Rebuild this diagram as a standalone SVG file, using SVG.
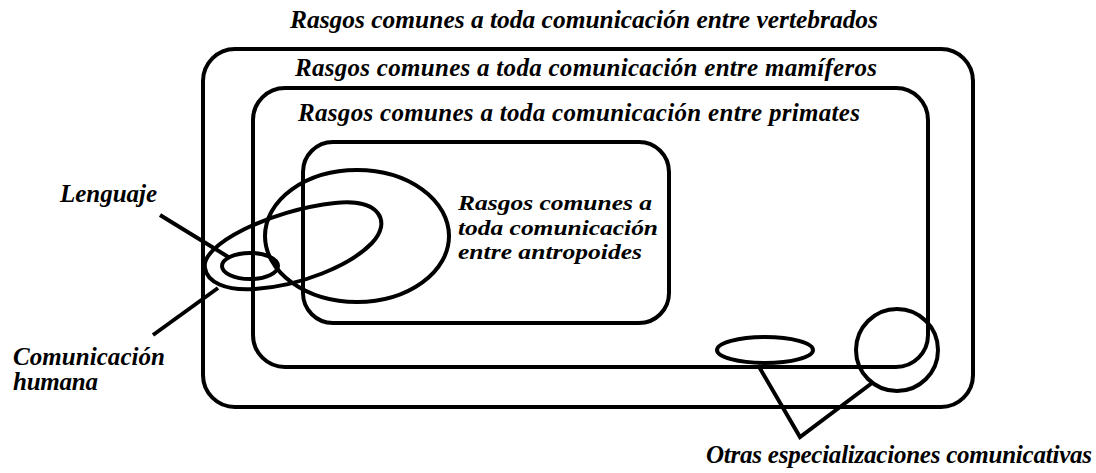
<svg xmlns="http://www.w3.org/2000/svg" width="1096" height="473" viewBox="0 0 1096 473">
<style>
.box{fill:none;stroke:#000;stroke-width:4}
.sh{fill:none;stroke:#000;stroke-width:4}
.ln{fill:none;stroke:#000;stroke-width:4;stroke-linecap:butt;stroke-linejoin:miter}
text{font-family:"Liberation Serif","Times New Roman",serif;font-weight:bold;font-style:italic;font-size:25px;fill:#000}
.sm{font-size:22px}
</style>
<rect width="1096" height="473" fill="#fff"/>
<g id="vertebrados">
<rect class="box" x="203" y="49" width="770" height="358" rx="32"/>
<text x="290" y="28" textLength="588" lengthAdjust="spacingAndGlyphs">Rasgos comunes a toda comunicación entre vertebrados</text>
</g>
<g id="mamiferos">
<rect class="box" x="253" y="88" width="675" height="279" rx="32"/>
<text x="295" y="76" textLength="582" lengthAdjust="spacing">Rasgos comunes a toda comunicación entre mamíferos</text>
</g>
<g id="primates">
<text x="298" y="121" textLength="562" lengthAdjust="spacing">Rasgos comunes a toda comunicación entre primates</text>
</g>
<g id="antropoides">
<rect class="box" x="303" y="142" width="366" height="181" rx="30"/>
<text class="sm" x="458" y="210" textLength="194" lengthAdjust="spacingAndGlyphs">Rasgos comunes a</text>
<text class="sm" x="458" y="235" textLength="200" lengthAdjust="spacingAndGlyphs">toda comunicación</text>
<text class="sm" x="458" y="259" textLength="184" lengthAdjust="spacingAndGlyphs">entre antropoides</text>
</g>
<g id="circulo-grande">
<ellipse class="sh" cx="357" cy="236" rx="92" ry="66"/>
</g>
<g id="comunicacion-humana">
<path class="sh" d="M205,268 C200,245 270,210 335,203 C380,198 392,222 372,243 C350,266 300,286 255,289 C225,291 207,282 205,268 Z"/>
<text x="13" y="365" textLength="152" lengthAdjust="spacing">Comunicación</text>
<text x="13" y="390" textLength="85" lengthAdjust="spacing">humana</text>
</g>
<g id="lenguaje">
<ellipse class="sh" cx="250" cy="266" rx="28" ry="13"/>
<text x="60" y="202" textLength="97" lengthAdjust="spacing">Lenguaje</text>
</g>
<g id="otras">
<ellipse class="sh" cx="765" cy="350" rx="48" ry="13"/>
<circle class="sh" cx="897" cy="350" r="41"/>
<text x="706" y="463" textLength="386" lengthAdjust="spacing">Otras especializaciones comunicativas</text>
</g>
<g id="connectors">
<line class="ln" x1="160" y1="215" x2="230" y2="258"/>
<line class="ln" x1="218" y1="288" x2="153" y2="335"/>
<polyline class="ln" points="758,365 800,437 872,383"/>
</g>
</svg>
